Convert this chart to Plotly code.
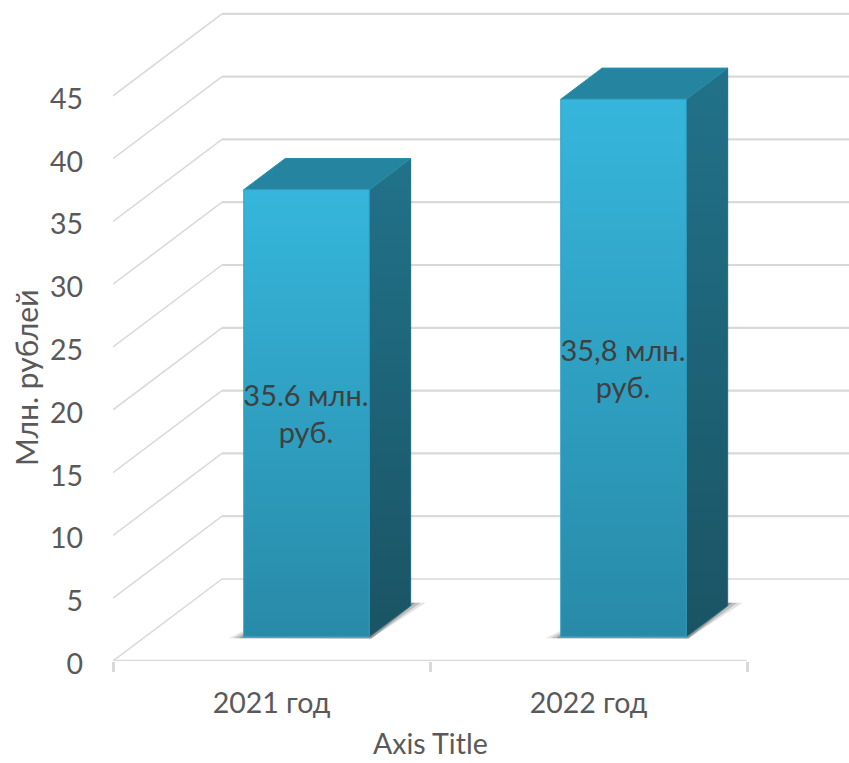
import plotly.graph_objects as go

# ---- data ----
categories = ["2021 год", "2022 год"]
values = [35.6, 42.8]
y_ticks = [0, 5, 10, 15, 20, 25, 30, 35, 40, 45]
label_lines = [["35.6 млн.", "руб."], ["35,8 млн.", "руб."]]
label_levels = [20.9, 24.5]
y_title = "Млн. рублей"
x_title = "Axis Title"

# ---- pseudo-3D projection, all in axis units ----
PX_X = 317.0      # px per category
PX_Y = 12.56      # px per value unit
L, R, T, B = 113, 0, 0, 102
W, H = 849, 763
x_range = [0, (W - L - R) / PX_X]
y_range = [0, (H - B - T) / PX_Y]
DEPTH_X = 109 / PX_X
DEPTH_Y = 82 / PX_Y
BAR_W = 125.5 / PX_X
BAR_D0 = 0.295
BAR_D1 = 0.675
BAR_SHIFT = 35 / PX_X  # bar centre vs category centre at front face
FONT = "Lato, 'Open Sans', sans-serif"
GRID = "#D9D9D9"
TEXT = "#595959"


def proj(x, v, d):
    return x + d * DEPTH_X, v + d * DEPTH_Y


def poly(pts, **kw):
    xs = [p[0] for p in pts] + [pts[0][0]]
    ys = [p[1] for p in pts] + [pts[0][1]]
    return go.Scatter(x=xs, y=ys, mode="lines", fill="toself", hoverinfo="skip",
                      showlegend=False, **kw)


fig = go.Figure()

# walls: side wall diagonals + back wall lines
for t in y_ticks:
    x0, y0 = proj(0, t, 0)
    x1, y1 = proj(0, t, 1)
    fig.add_trace(go.Scatter(x=[x0, x1], y=[y0, y1], mode="lines",
                             line=dict(color=GRID, width=1.5), hoverinfo="skip",
                             showlegend=False))
    fig.add_trace(go.Scatter(x=[x1, x_range[1]], y=[y1, y1], mode="lines",
                             line=dict(color=GRID, width=2.2 if t else 1.6), hoverinfo="skip",
                             showlegend=False))
# front floor edge
fig.add_trace(go.Scatter(x=[0, 2], y=[0, 0], mode="lines",
                         line=dict(color=GRID, width=2.5), hoverinfo="skip", showlegend=False))

for i, v in enumerate(values):
    c = i + 0.5
    dx = (BAR_SHIFT - BAR_D0 * DEPTH_X)
    xl = c - BAR_W / 2 + dx
    xr = c + BAR_W / 2 + dx
    fl = lambda d, val: (xl + d * DEPTH_X, val + d * DEPTH_Y)
    fr = lambda d, val: (xr + d * DEPTH_X, val + d * DEPTH_Y)
    # soft shadow at the foot of the bar
    for grow, alpha in [(1.0, 0.14), (0.65, 0.22), (0.3, 0.3)]:
        ox = 15 * grow / PX_X
        oy = 6 * grow / PX_Y
        a = fl(BAR_D0, 0)
        b = fr(BAR_D0, 0)
        e = fr(BAR_D1, 0)
        fig.add_trace(poly([(a[0] - ox, a[1] - 0.12), (a[0], a[1] + oy), (e[0], e[1] + 3.0 / PX_Y),
                            (e[0] + ox, e[1] + 3.0 / PX_Y), (b[0] + 2 / PX_X, b[1] - 0.14),
                            ],
                           line=dict(width=0), fillcolor=f"rgba(60,60,60,{alpha})"))
    # right side face
    fig.add_trace(poly([fr(BAR_D0, 0), fr(BAR_D1, 0), fr(BAR_D1, v), fr(BAR_D0, v)],
                       line=dict(color="#1F6A80", width=1),
                       fillgradient=dict(type="vertical",
                                         colorscale=[[0, "#1A5464"], [1, "#21728A"]])))
    # top face
    fig.add_trace(poly([fl(BAR_D0, v), fr(BAR_D0, v), fr(BAR_D1, v), fl(BAR_D1, v)],
                       line=dict(color="#2A90AE", width=1), fillcolor="#25849F"))
    # front face
    fig.add_trace(poly([fl(BAR_D0, 0), fr(BAR_D0, 0), fr(BAR_D0, v), fl(BAR_D0, v)],
                       line=dict(color="#2F9FC0", width=1),
                       fillgradient=dict(type="vertical",
                                         colorscale=[[0, "#288AA8"], [1, "#36B6DC"]])))
    # data label, one point per line
    lx = (xl + xr) / 2 + BAR_D0 * DEPTH_X - 0.5 / PX_X
    fig.add_trace(go.Scatter(x=[lx, lx], y=[label_levels[i], label_levels[i] - 3.0],
                             mode="text", text=label_lines[i], textposition="middle center",
                             textfont=dict(family=FONT, size=29, color="#404040"),
                             hoverinfo="skip", showlegend=False, cliponaxis=False))

plot_w, plot_h = W - L - R, H - B - T
fig.update_layout(
    width=W, height=H, margin=dict(l=L, r=R, t=T, b=B),
    paper_bgcolor="white", plot_bgcolor="white", showlegend=False,
    font=dict(family=FONT, size=28.5, color=TEXT),
    xaxis=dict(range=x_range, showgrid=False, zeroline=False, showline=False,
               tickmode="array", tickvals=[0.5, 1.5], ticktext=categories, ticks="",
               ticklabelstandoff=22,
               minor=dict(tickmode="array", tickvals=[0, 1, 2], ticks="outside", ticklen=10,
                          tickwidth=2.5, tickcolor=GRID, showgrid=False),
               tickfont=dict(family=FONT, size=28.5, color=TEXT), fixedrange=True),
    yaxis=dict(range=y_range, showgrid=False, zeroline=False, showline=False,
               tickmode="array", tickvals=y_ticks, ticks="", ticklabelstandoff=29,
               ticklabelshift=3,
               tickfont=dict(family=FONT, size=28.5, color=TEXT), fixedrange=True),
    annotations=[
        dict(text=x_title, xref="paper", yref="paper", x=(430 - L) / plot_w,
             y=-(762 - (H - B)) / plot_h, showarrow=False, xanchor="center", yanchor="bottom",
             font=dict(family=FONT, size=28.5, color=TEXT)),
        dict(text=y_title, xref="paper", yref="paper", x=(26 - L) / plot_w,
             y=((H - B) - 378) / plot_h, showarrow=False, textangle=-90, xanchor="center",
             yanchor="middle", font=dict(family=FONT, size=30, color=TEXT)),
    ],
)
fig.write_html("out.html", config=dict(displayModeBar=False),
               post_script="document.body.style.margin='0';")
